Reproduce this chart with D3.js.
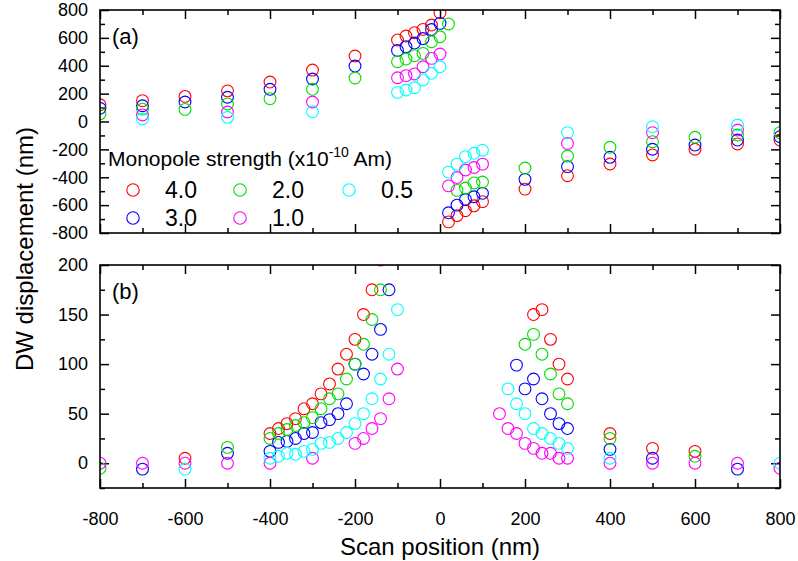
<!DOCTYPE html>
<html><head><meta charset="utf-8">
<script src="https://cdn.jsdelivr.net/npm/d3@7"></script>
<style>
body{margin:0;background:#fff;}
text{font-family:"Liberation Sans",Arial,sans-serif;fill:#000;}
</style></head>
<body><svg id="c" width="798" height="561"></svg>
<script>
// ---------- data ----------
const seriesNames = ["4.0","3.0","2.0","1.0","0.5"];
const seriesColors = ["#ff0000","#0000ff","#00dd00","#ff00ff","#00ffff"];
const xTicks = [-800,-600,-400,-200,0,200,400,600,800];
const yTicksA = [-800,-600,-400,-200,0,200,400,600,800];
const yTicksB = [0,50,100,150,200];

// panel (a)
const a_red = [[-800,120],[-700,150],[-600,180],[-500,220],[-400,283],[-300,369],[-200,470],[-100,585],[-80,613],[-60,637],[-40,661],[-20,692],[0,780],[20,-720],[40,-675],[60,-640],[80,-605],[100,-575],[200,-485],[300,-389],[400,-305],[500,-240],[600,-199],[700,-161],[800,-133]];
const a_blue = [[-800,95],[-700,113],[-600,140],[-500,174],[-400,231],[-300,305],[-200,398],[-100,510],[-80,537],[-60,563],[-40,595],[-20,660],[0,704],[20,-655],[40,-600],[60,-560],[80,-540],[100,-515],[200,-415],[300,-324],[400,-257],[500,-199],[600,-169],[700,-133],[800,-109]];
const a_green = [[-800,55],[-700,89],[-600,87],[-500,126],[-400,164],[-300,231],[-200,312],[-100,429],[-80,448],[-60,472],[-40,489],[-20,572],[0,608],[20,700],[40,-494],[60,-477],[80,-441],[100,-434],[200,-334],[300,-248],[400,-185],[500,-145],[600,-113],[700,-97],[800,-80]];
const a_magenta = [[-700,47],[-500,68],[-300,140],[-100,314],[-80,329],[-60,341],[-40,393],[-20,453],[0,484],[20,-462],[40,-402],[60,-348],[80,-330],[100,-306],[300,-157],[500,-80],[700,-61]];
const a_cyan = [[-700,18],[-500,30],[-300,70],[-100,209],[-80,226],[-60,242],[-40,298],[-20,346],[0,393],[20,-363],[40,-306],[60,-252],[80,-228],[100,-206],[300,-80],[500,-37],[700,-25]];

// panel (b)
const b_red = [[-600,5],[-400,30],[-380,35],[-360,40],[-340,45],[-320,55],[-300,60],[-280,70],[-260,80],[-240,95],[-220,110],[-200,125],[-180,150],[-160,175],[-140,205],[220,150],[240,155],[260,125],[280,100],[300,85],[400,30],[500,15],[600,12]];
const b_blue = [[-700,-6],[-500,10],[-400,12],[-380,21],[-360,22],[-340,25],[-320,30],[-300,31],[-280,41],[-260,44],[-240,50],[-220,60],[-200,100],[-180,90],[-160,110],[-140,135],[-120,175],[180,99],[200,75],[220,85],[240,65],[260,50],[280,40],[300,35],[400,14],[500,5],[700,-6]];
const b_green = [[-800,-5],[-500,16],[-400,25],[-380,30],[-360,34],[-340,38],[-320,41],[-300,46],[-280,55],[-260,65],[-240,70],[-220,85],[-200,100],[-180,120],[-160,145],[-140,175],[200,120],[220,130],[240,110],[260,90],[280,70],[300,60],[400,25],[600,7]];
const b_magenta = [[-800,0],[-700,0],[-600,0],[-500,0],[-400,0],[-300,5],[-200,20],[-180,25],[-160,35],[-140,45],[-120,65],[-100,95],[140,50],[160,35],[180,30],[200,20],[220,15],[240,10],[260,10],[280,5],[300,5],[400,0],[500,0],[600,0],[700,0],[800,-5]];
const b_cyan = [[-600,-6],[-400,5],[-380,7],[-360,10],[-340,9],[-320,12],[-300,14],[-280,20],[-260,21],[-240,25],[-220,31],[-200,40],[-180,50],[-160,65],[-140,85],[-120,110],[-100,155],[160,75],[180,60],[200,50],[220,35],[240,30],[260,25],[280,20],[300,15],[400,5],[800,0]];

const panelA = [a_red,a_blue,a_green,a_magenta,a_cyan];
const panelB = [b_red,b_blue,b_green,b_magenta,b_cyan];

// ---------- drawing ----------
const svg = d3.select("#c");
const L = 100, R = 780;
const x = d3.scaleLinear().domain([-800,800]).range([L,R]);
const yA = d3.scaleLinear().domain([-800,800]).range([233,10]);
const yB = d3.scaleLinear().domain([-25,200]).range([488,265]);
const MR = 5.9;

function panel(id, y, yMajor, yMinorStep, data, label, showX) {
  const [y0,y1] = y.range();
  const top = y1, bot = y0;
  const g = svg.append("g");
  svg.append("clipPath").attr("id","clip"+id).append("rect")
    .attr("x",L).attr("y",top).attr("width",R-L).attr("height",bot-top);

  const xMinor = d3.range(-800,801,100).filter(v=>!xTicks.includes(v));
  const dom = y.domain();
  const yMinor = d3.range(Math.ceil(dom[0]/yMinorStep)*yMinorStep, dom[1]+0.001, yMinorStep).filter(v=>!yMajor.includes(v));

  const fmt = d => d3.format("d")(d).replace("−","-");
  g.append("g").attr("transform",`translate(0,${bot})`)
    .call(d3.axisBottom(x).tickValues(xTicks).tickSize(-9).tickSizeOuter(0).tickPadding(showX?24:0).tickFormat(showX?fmt:""));
  g.append("g").attr("transform",`translate(0,${bot})`)
    .call(d3.axisBottom(x).tickValues(xMinor).tickSize(-5).tickSizeOuter(0).tickFormat(""));
  g.append("g").attr("transform",`translate(0,${top})`)
    .call(d3.axisTop(x).tickValues(xTicks).tickSize(-9).tickSizeOuter(0).tickFormat(""));
  g.append("g").attr("transform",`translate(0,${top})`)
    .call(d3.axisTop(x).tickValues(xMinor).tickSize(-5).tickSizeOuter(0).tickFormat(""));
  g.append("g").attr("transform",`translate(${L},0)`)
    .call(d3.axisLeft(y).tickValues(yMajor).tickSize(-9).tickSizeOuter(0).tickPadding(12).tickFormat(fmt));
  g.append("g").attr("transform",`translate(${L},0)`)
    .call(d3.axisLeft(y).tickValues(yMinor).tickSize(-5).tickSizeOuter(0).tickFormat(""));
  g.append("g").attr("transform",`translate(${R},0)`)
    .call(d3.axisRight(y).tickValues(yMajor).tickSize(-9).tickSizeOuter(0).tickFormat(""));
  g.append("g").attr("transform",`translate(${R},0)`)
    .call(d3.axisRight(y).tickValues(yMinor).tickSize(-5).tickSizeOuter(0).tickFormat(""));
  g.selectAll(".domain").remove();
  g.selectAll(".tick line").attr("stroke","#000").attr("stroke-width",1.5);
  g.selectAll(".tick text").attr("font-size",18).attr("font-family","Liberation Sans, Arial, sans-serif").attr("fill","#000");

  const pts = svg.append("g").attr("clip-path",`url(#clip${id})`);
  data.forEach((s,i)=>{
    pts.selectAll(null).data(s).join("circle")
      .attr("cx",d=>x(d[0])).attr("cy",d=>y(d[1])).attr("r",MR)
      .attr("fill","none").attr("stroke",seriesColors[i]).attr("stroke-width",1.1);
  });

  svg.append("rect").attr("x",L).attr("y",top).attr("width",R-L).attr("height",bot-top)
    .attr("fill","none").attr("stroke","#000").attr("stroke-width",1.6);

  svg.append("text").attr("x",L+12).attr("y",top+34).attr("font-size",22).text(label);
}

panel("A", yA, yTicksA, 100, panelA, "(a)", false);
panel("B", yB, yTicksB, 25, panelB, "(b)", true);

// legend
const lt = svg.append("text").attr("x",108).attr("y",166).attr("font-size",21);
lt.append("tspan").text("Monopole strength (x10");
lt.append("tspan").attr("dy",-9).attr("font-size",14).text("-10");
lt.append("tspan").attr("dy",9).text(" Am)");
const legPos = [[133,190],[133,218],[240,190],[240,218],[349,190]];
seriesNames.forEach((n,i)=>{
  const [lx,ly] = legPos[i];
  svg.append("circle").attr("cx",lx).attr("cy",ly).attr("r",MR+0.3)
    .attr("fill","none").attr("stroke",seriesColors[i]).attr("stroke-width",1.1);
  svg.append("text").attr("x",lx+32).attr("y",ly+8).attr("font-size",23).text(n);
});

// axis titles
svg.append("text").attr("transform","translate(33,249) rotate(-90)")
  .attr("text-anchor","middle").attr("font-size",24).text("DW displacement (nm)");
svg.append("text").attr("x",440).attr("y",555).attr("text-anchor","middle")
  .attr("font-size",24).text("Scan position (nm)");
</script></body></html>
